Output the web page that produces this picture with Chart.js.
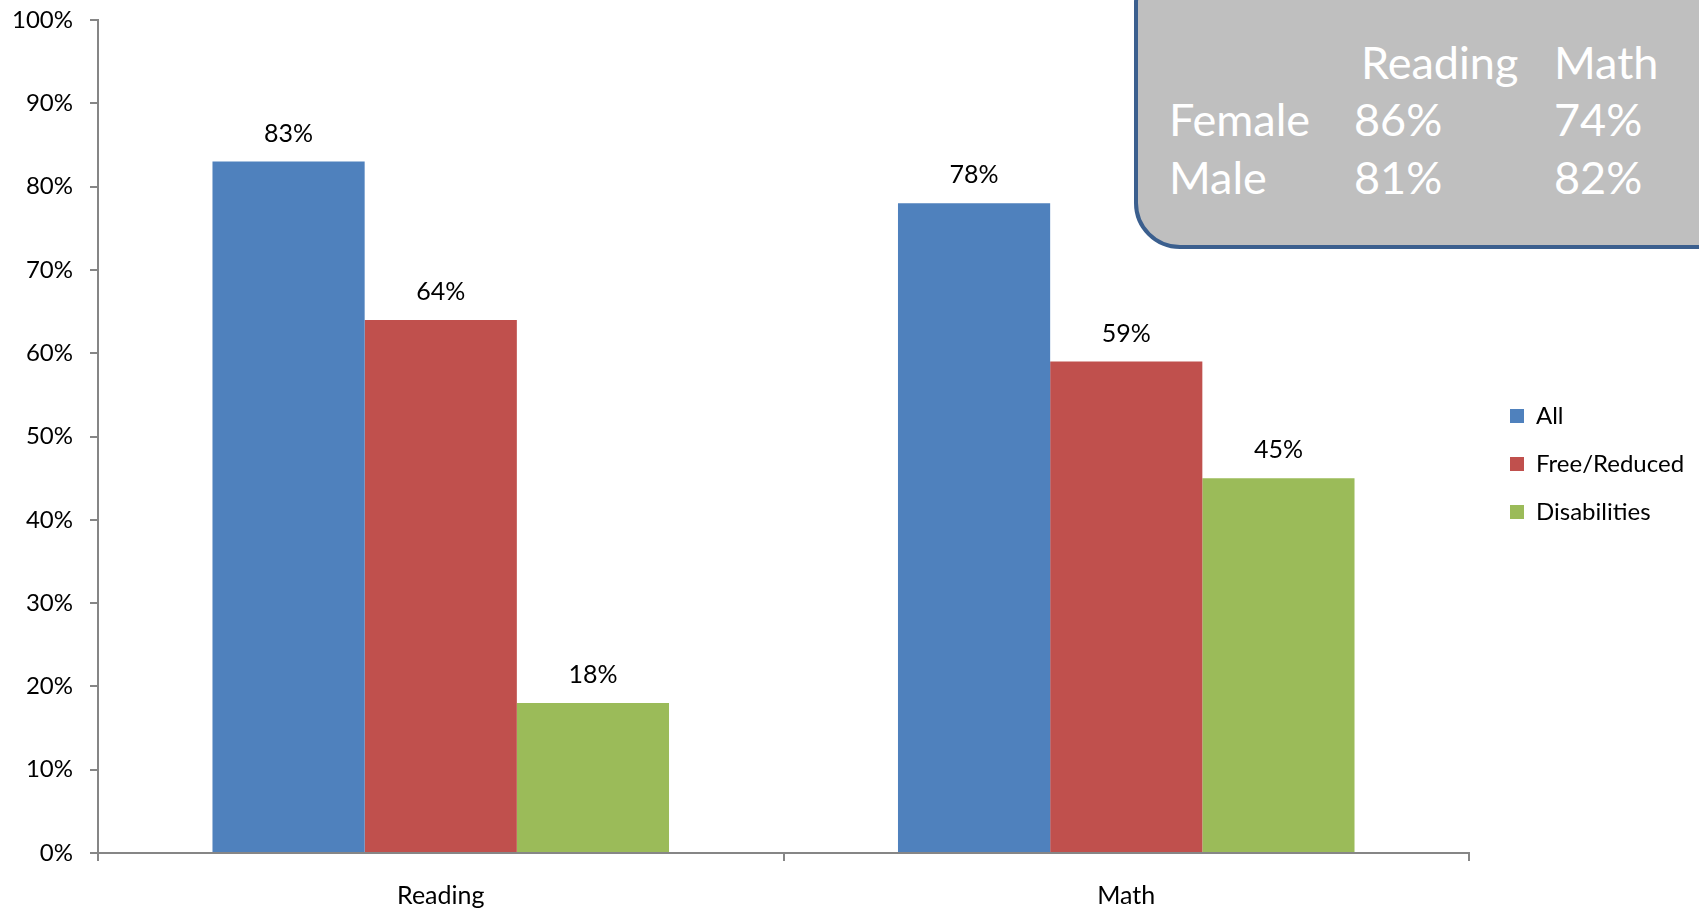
<!DOCTYPE html>
<html>
<head>
<meta charset="utf-8">
<script src="https://cdn.jsdelivr.net/npm/chart.js@4.4.1/dist/chart.umd.min.js"></script>
<style>
    html, body { margin: 0; padding: 0; background: #fff; overflow: hidden; }
    #wrap { position: relative; width: 1699px; height: 912px; }
    #inset {
        position: absolute; left: 1134px; top: -43px; width: 620px; height: 284px;
        background: #bfbfbf; border: 4px solid #3b5f8e; border-radius: 46px;
        font-family: Lato, "Noto Sans", sans-serif; color: #fff; font-size: 45px;
    }
    #inset span { position: absolute; line-height: 1; transform: translateY(-50%); }
</style>
</head>
<body>
<div id="wrap">
    <canvas id="chart" width="1699" height="912"></canvas>
    <div id="inset"></div>
</div>
<script>
/* ---------- 資料 ---------- */
const categories = ["Reading", "Math"];
const seriesNames = ["All", "Free/Reduced", "Disabilities"];
const allValues = [83, 78];
const freeReducedValues = [64, 59];
const disabilitiesValues = [18, 45];
const yTicks = [0, 10, 20, 30, 40, 50, 60, 70, 80, 90, 100];

// 右上角的性別表
const insetColumns = ["Reading", "Math"];
const insetRows = ["Female", "Male"];
const femaleValues = [86, 74];
const maleValues = [81, 82];

const colors = ["#4f81bd", "#c0504d", "#9bbb59"];
const axisColor = "#868686";
const FONT = "Lato, 'Noto Sans', sans-serif";

/* ---------- 表格文字 ---------- */
function buildInset() {
    const box = document.getElementById("inset");
    const bx = 1138, by = -39; // inset's inner origin in page coords
    const colX = [1354, 1554];
    const rowY = [119, 177];
    const put = (txt, x, y) => {
        const s = document.createElement("span");
        s.textContent = txt;
        s.style.left = (x - bx) + "px";
        s.style.top = (y - by) + "px";
        box.appendChild(s);
    };
    put(insetColumns[0], 1361, 62);
    put(insetColumns[1], 1554, 62);
    [femaleValues, maleValues].forEach((vals, r) => {
        put(insetRows[r], 1169, rowY[r]);
        vals.forEach((v, c) => put(v + "%", colX[c], rowY[r]));
    });
}
buildInset();

/* ---------- 柱上數值 ---------- */
const barLabels = {
    id: "barLabels",
    afterDatasetsDraw(chart) {
        const ctx = chart.ctx;
        ctx.save();
        ctx.font = "25px " + FONT;
        ctx.fillStyle = "#000";
        ctx.textAlign = "center";
        ctx.textBaseline = "middle";
        chart.data.datasets.forEach((ds, i) => {
            chart.getDatasetMeta(i).data.forEach((bar, j) => {
                ctx.fillText(ds.data[j] + "%", bar.x, bar.y - 28);
            });
        });
        ctx.restore();
    }
};

/* ---------- 圖例位置 ---------- */
const legendFix = {
    id: "legendFix",
    beforeInit(chart) {
        const fit = chart.legend.fit;
        chart.legend.fit = function () {
            fit.bind(chart.legend)();
            this.width = 230;
        };
    },
    afterLayout(chart) {
        chart.legend.left += 17;
        chart.legend.right += 17;
        chart.legend.top -= 2;
        chart.legend.bottom -= 2;
    }
};

new Chart(document.getElementById("chart"), {
    type: "bar",
    data: {
        labels: categories,
        datasets: [
            { label: seriesNames[0], data: allValues, backgroundColor: colors[0] },
            { label: seriesNames[1], data: freeReducedValues, backgroundColor: colors[1] },
            { label: seriesNames[2], data: disabilitiesValues, backgroundColor: colors[2] }
        ]
    },
    options: {
        responsive: false,
        animation: false,
        devicePixelRatio: 1,
        layout: { padding: { top: 20, left: 0, right: 0, bottom: 0 } },
        datasets: { bar: { categoryPercentage: 0.666, barPercentage: 1 } },
        plugins: {
            legend: {
                position: "right",
                labels: {
                    boxWidth: 14, boxHeight: 14, padding: 24,
                    color: "#000", font: { family: FONT, size: 24 }
                }
            },
            tooltip: { enabled: false }
        },
        scales: {
            x: {
                grid: { drawOnChartArea: false, color: axisColor, lineWidth: 2, tickLength: 8, offset: true },
                border: { color: axisColor, width: 2 },
                ticks: { color: "#000", padding: 20, font: { family: FONT, size: 25 } },
                afterFit: s => { s.height = 59; }
            },
            y: {
                min: 0, max: 100,
                afterBuildTicks: s => { s.ticks = yTicks.map(v => ({ value: v })); },
                grid: { drawOnChartArea: false, color: axisColor, lineWidth: 2, tickLength: 8 },
                border: { color: axisColor, width: 2 },
                ticks: { color: "#000", padding: 17, font: { family: FONT, size: 24 }, callback: v => v + "%" },
                afterFit: s => { s.width = 98; s.paddingTop = 0; s.paddingBottom = 0; }
            }
        }
    },
    plugins: [barLabels, legendFix]
});
</script>
</body>
</html>
